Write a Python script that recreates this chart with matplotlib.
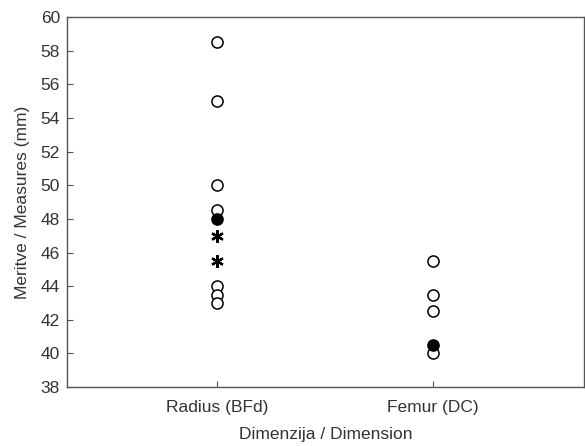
import matplotlib
matplotlib.use("Agg")
import matplotlib.pyplot as plt

plt.rcParams["font.family"] = ["Liberation Sans", "DejaVu Sans"]

categories = ["Radius (BFd)", "Femur (DC)"]

# open circles, filled circles and asterisks per category
radius_open = [58.5, 55.0, 50.0, 48.5, 44.0, 43.5, 43.0]
radius_filled = [48.0]
radius_star = [47.0, 45.5]
femur_open = [45.5, 43.5, 42.5, 40.0]
femur_filled = [40.5]

yticks = list(range(38, 61, 2))

grey = "#555555"
text_c = "#333333"

fig = plt.figure(figsize=(5.85, 4.46), dpi=100)
ax = fig.add_axes([0.1145, 0.132, 0.8835, 0.830])

ms = 8
ax.plot([1] * len(radius_open), radius_open, "o", ms=ms, mfc="white", mec="black", mew=1.1, ls="none")
ax.plot([1] * len(radius_filled), radius_filled, "o", ms=ms, mfc="black", mec="black", mew=1.1, ls="none")
ax.plot([1] * len(radius_star), radius_star, ms=ms + 1, mfc="none", mec="black", mew=1.6, ls="none",
        marker=(6, 2, 0))
ax.plot([2] * len(femur_open), femur_open, "o", ms=ms, mfc="white", mec="black", mew=1.1, ls="none")
ax.plot([2] * len(femur_filled), femur_filled, "o", ms=ms, mfc="black", mec="black", mew=1.1, ls="none")

ax.set_xlim(0.306, 2.70)
ax.set_ylim(38, 60)
ax.set_xticks([1, 2])
ax.set_xticklabels(categories)
ax.set_yticks(yticks)

for s in ax.spines.values():
    s.set_color(grey)
    s.set_linewidth(1.0)
ax.tick_params(direction="in", length=4, color=grey, labelcolor=text_c, labelsize=12.5)
ax.tick_params(axis="y", pad=5)
ax.tick_params(axis="x", pad=9)

ax.set_xlabel("Dimenzija / Dimension", fontsize=12.5, color=text_c, labelpad=9)
ax.set_ylabel("Meritve / Measures (mm)", fontsize=12.5, color=text_c, labelpad=8)

fig.savefig("out.png", dpi=100)
